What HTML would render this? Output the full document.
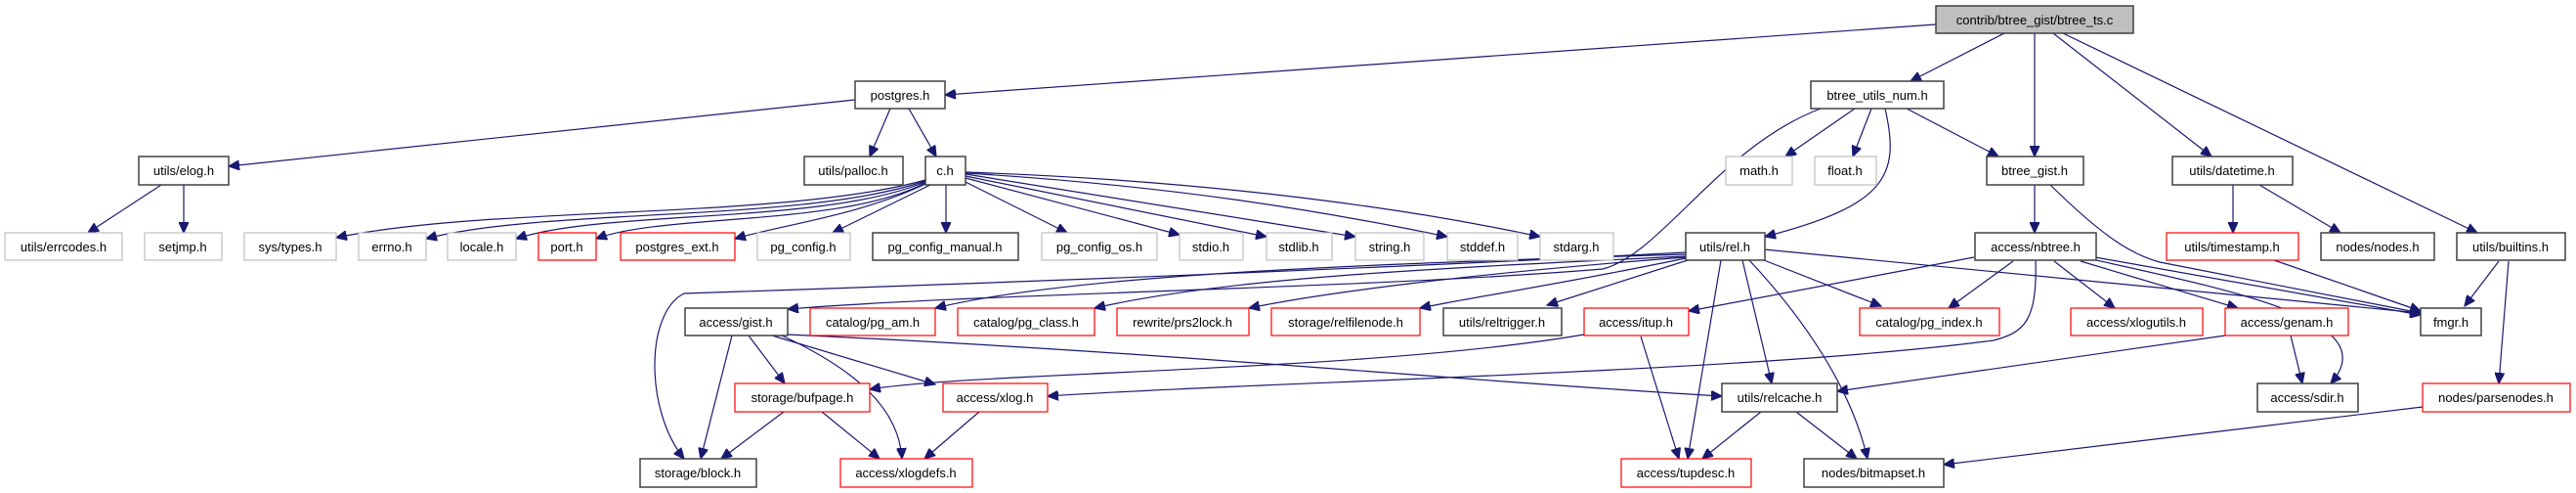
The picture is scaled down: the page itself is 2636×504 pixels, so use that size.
<!DOCTYPE html>
<html><head><meta charset="utf-8"><style>
html,body{margin:0;padding:0;background:#fff;}
svg{display:block;}
text{font-family:"Liberation Sans",sans-serif;font-size:13px;text-anchor:middle;fill:#000;}
.b{fill:#fff;stroke:#404040;stroke-width:1.5}
.g{fill:#fff;stroke:#bfbfbf;stroke-width:1.2}
.r{fill:#fff;stroke:#ff0000;stroke-width:1.2}
.t{fill:#bfbfbf;stroke:#404040;stroke-width:1.5}
path{fill:none;stroke:#191970;stroke-width:1.2}
</style></head><body>
<svg width="2636" height="504" viewBox="0 0 2636 504" xmlns="http://www.w3.org/2000/svg">
<defs><marker id="a" markerUnits="userSpaceOnUse" markerWidth="12" markerHeight="10" refX="11" refY="5" orient="auto"><path d="M0,0 L11,5 L0,10 z" style="fill:#191970;stroke:#191970"/></marker></defs>
<g marker-end="url(#a)">
<path d="M1981,25 L967,97"/>
<path d="M2051,34 L1955,83"/>
<path d="M2082,34 L2082,160"/>
<path d="M2101,34 L2263,160"/>
<path d="M2111,34 L2535,238"/>
<path d="M875,102 L234,170"/>
<path d="M911,111 L890,160"/>
<path d="M930,111 L958,160"/>
<path d="M165,189 L90,238"/>
<path d="M188,189 L188,238"/>
<path d="M947,184 C800,225 500,210 344,243"/>
<path d="M947,185 C820,228 560,212 436,244"/>
<path d="M947,186 C840,230 620,214 528,244"/>
<path d="M947,187 C860,232 680,218 610,244"/>
<path d="M947,188 C880,220 800,230 752,244"/>
<path d="M952,189 L852,238"/>
<path d="M968,189 L968,238"/>
<path d="M988,186 L1092,238"/>
<path d="M988,182 L1207,240"/>
<path d="M988,180 L1296,242"/>
<path d="M988,178 L1387,242"/>
<path d="M988,177 C1200,190 1350,215 1481,242"/>
<path d="M988,176 C1250,185 1450,215 1576,242"/>
<path d="M1898,111 L1827,160"/>
<path d="M1915,111 L1896,160"/>
<path d="M1951,111 L2045,160"/>
<path d="M1929,111 C1945,180 1930,210 1806,242"/>
<path d="M1863,111 C1760,150 1700,260 1640,275 C1400,295 1000,300 806,316"/>
<path d="M2098,189 C2150,240 2180,260 2210,268 L2477,320"/>
<path d="M2082,189 L2082,238"/>
<path d="M2285,189 L2285,238"/>
<path d="M2312,189 L2395,238"/>
<path d="M2327,266 L2477,318"/>
<path d="M2557,267 L2522,313"/>
<path d="M2567,267 L2557,392"/>
<path d="M1725,260 C1400,270 1100,280 957,315"/>
<path d="M1725,262 C1450,275 1250,285 1120,315"/>
<path d="M1725,263 C1500,280 1350,300 1278,315"/>
<path d="M1725,264 C1600,290 1500,305 1453,315"/>
<path d="M1727,266 L1583,312"/>
<path d="M1725,258 C1400,275 1000,290 700,300 C660,320 660,420 700,469"/>
<path d="M1805,255 L2477,320"/>
<path d="M1805,266 L1925,313"/>
<path d="M1783,266 L1813,392"/>
<path d="M1790,266 C1850,330 1895,400 1911,469"/>
<path d="M1761,266 L1727,469"/>
<path d="M2020,263 L1728,318"/>
<path d="M2083,266 C2085,330 2070,340 2040,348 C1800,380 1300,390 1072,405"/>
<path d="M2060,267 L1994,315"/>
<path d="M2102,267 L2164,315"/>
<path d="M2129,267 L2290,315"/>
<path d="M2144,263 L2477,322"/>
<path d="M2145,266 C2300,300 2440,330 2385,392"/>
<path d="M2344,343 L2356,392"/>
<path d="M2277,343 L1880,400"/>
<path d="M2479,416 L1989,475"/>
<path d="M806,342 C1200,360 1500,390 1762,405"/>
<path d="M790,343 L957,393"/>
<path d="M766,343 L803,392"/>
<path d="M749,343 L717,469"/>
<path d="M800,343 C880,380 920,420 923,469"/>
<path d="M1621,342 C1400,380 1000,380 890,398"/>
<path d="M1679,344 L1718,469"/>
<path d="M802,421 L738,469"/>
<path d="M841,421 L900,469"/>
<path d="M1002,421 L946,469"/>
<path d="M1802,421 L1742,469"/>
<path d="M1838,421 L1900,469"/>
</g>
<g>
<rect class="t" x="1981" y="6" width="202" height="28"/><text x="2082" y="25">contrib/btree_gist/btree_ts.c</text>
<rect class="b" x="875" y="83" width="92" height="28"/><text x="921" y="102">postgres.h</text>
<rect class="b" x="1853" y="83" width="136" height="28"/><text x="1921" y="102">btree_utils_num.h</text>
<rect class="b" x="142" y="160" width="92" height="29"/><text x="188" y="179">utils/elog.h</text>
<rect class="b" x="823" y="160" width="101" height="29"/><text x="873" y="179">utils/palloc.h</text>
<rect class="b" x="947" y="160" width="41" height="29"/><text x="967" y="179">c.h</text>
<rect class="g" x="1766" y="160" width="68" height="29"/><text x="1800" y="179">math.h</text>
<rect class="g" x="1857" y="160" width="63" height="29"/><text x="1888" y="179">float.h</text>
<rect class="b" x="2033" y="160" width="99" height="29"/><text x="2082" y="179">btree_gist.h</text>
<rect class="b" x="2223" y="160" width="123" height="29"/><text x="2284" y="179">utils/datetime.h</text>
<rect class="g" x="5" y="238" width="120" height="28"/><text x="65" y="257">utils/errcodes.h</text>
<rect class="g" x="148" y="238" width="79" height="28"/><text x="187" y="257">setjmp.h</text>
<rect class="g" x="250" y="238" width="94" height="28"/><text x="297" y="257">sys/types.h</text>
<rect class="g" x="367" y="238" width="69" height="28"/><text x="401" y="257">errno.h</text>
<rect class="g" x="458" y="238" width="70" height="28"/><text x="493" y="257">locale.h</text>
<rect class="r" x="551" y="238" width="59" height="28"/><text x="580" y="257">port.h</text>
<rect class="r" x="635" y="238" width="117" height="28"/><text x="693" y="257">postgres_ext.h</text>
<rect class="g" x="775" y="238" width="95" height="28"/><text x="822" y="257">pg_config.h</text>
<rect class="b" x="893" y="238" width="149" height="28"/><text x="967" y="257">pg_config_manual.h</text>
<rect class="g" x="1066" y="238" width="118" height="28"/><text x="1125" y="257">pg_config_os.h</text>
<rect class="g" x="1207" y="238" width="65" height="28"/><text x="1239" y="257">stdio.h</text>
<rect class="g" x="1296" y="238" width="67" height="28"/><text x="1329" y="257">stdlib.h</text>
<rect class="g" x="1387" y="238" width="70" height="28"/><text x="1422" y="257">string.h</text>
<rect class="g" x="1481" y="238" width="72" height="28"/><text x="1517" y="257">stddef.h</text>
<rect class="g" x="1576" y="238" width="75" height="28"/><text x="1613" y="257">stdarg.h</text>
<rect class="b" x="1725" y="238" width="81" height="28"/><text x="1765" y="257">utils/rel.h</text>
<rect class="b" x="2021" y="238" width="124" height="28"/><text x="2083" y="257">access/nbtree.h</text>
<rect class="r" x="2217" y="238" width="135" height="28"/><text x="2284" y="257">utils/timestamp.h</text>
<rect class="b" x="2375" y="238" width="116" height="28"/><text x="2433" y="257">nodes/nodes.h</text>
<rect class="b" x="2514" y="238" width="111" height="28"/><text x="2569" y="257">utils/builtins.h</text>
<rect class="b" x="701" y="315" width="105" height="28"/><text x="753" y="334">access/gist.h</text>
<rect class="r" x="829" y="315" width="128" height="28"/><text x="893" y="334">catalog/pg_am.h</text>
<rect class="r" x="980" y="315" width="140" height="28"/><text x="1050" y="334">catalog/pg_class.h</text>
<rect class="r" x="1143" y="315" width="135" height="28"/><text x="1210" y="334">rewrite/prs2lock.h</text>
<rect class="r" x="1301" y="315" width="152" height="28"/><text x="1377" y="334">storage/relfilenode.h</text>
<rect class="b" x="1477" y="315" width="121" height="28"/><text x="1537" y="334">utils/reltrigger.h</text>
<rect class="r" x="1621" y="315" width="107" height="28"/><text x="1674" y="334">access/itup.h</text>
<rect class="r" x="1903" y="315" width="143" height="28"/><text x="1974" y="334">catalog/pg_index.h</text>
<rect class="r" x="2119" y="315" width="135" height="28"/><text x="2186" y="334">access/xlogutils.h</text>
<rect class="r" x="2277" y="315" width="126" height="28"/><text x="2340" y="334">access/genam.h</text>
<rect class="b" x="2477" y="315" width="62" height="28"/><text x="2508" y="334">fmgr.h</text>
<rect class="r" x="752" y="392" width="138" height="29"/><text x="821" y="411">storage/bufpage.h</text>
<rect class="r" x="965" y="392" width="107" height="29"/><text x="1018" y="411">access/xlog.h</text>
<rect class="b" x="1762" y="392" width="118" height="29"/><text x="1821" y="411">utils/relcache.h</text>
<rect class="b" x="2310" y="392" width="103" height="29"/><text x="2361" y="411">access/sdir.h</text>
<rect class="r" x="2479" y="392" width="151" height="29"/><text x="2554" y="411">nodes/parsenodes.h</text>
<rect class="b" x="655" y="469" width="119" height="29"/><text x="714" y="488">storage/block.h</text>
<rect class="r" x="860" y="469" width="135" height="29"/><text x="927" y="488">access/xlogdefs.h</text>
<rect class="r" x="1659" y="469" width="133" height="29"/><text x="1725" y="488">access/tupdesc.h</text>
<rect class="b" x="1846" y="469" width="143" height="29"/><text x="1917" y="488">nodes/bitmapset.h</text>
</g>
</svg>
</body></html>
